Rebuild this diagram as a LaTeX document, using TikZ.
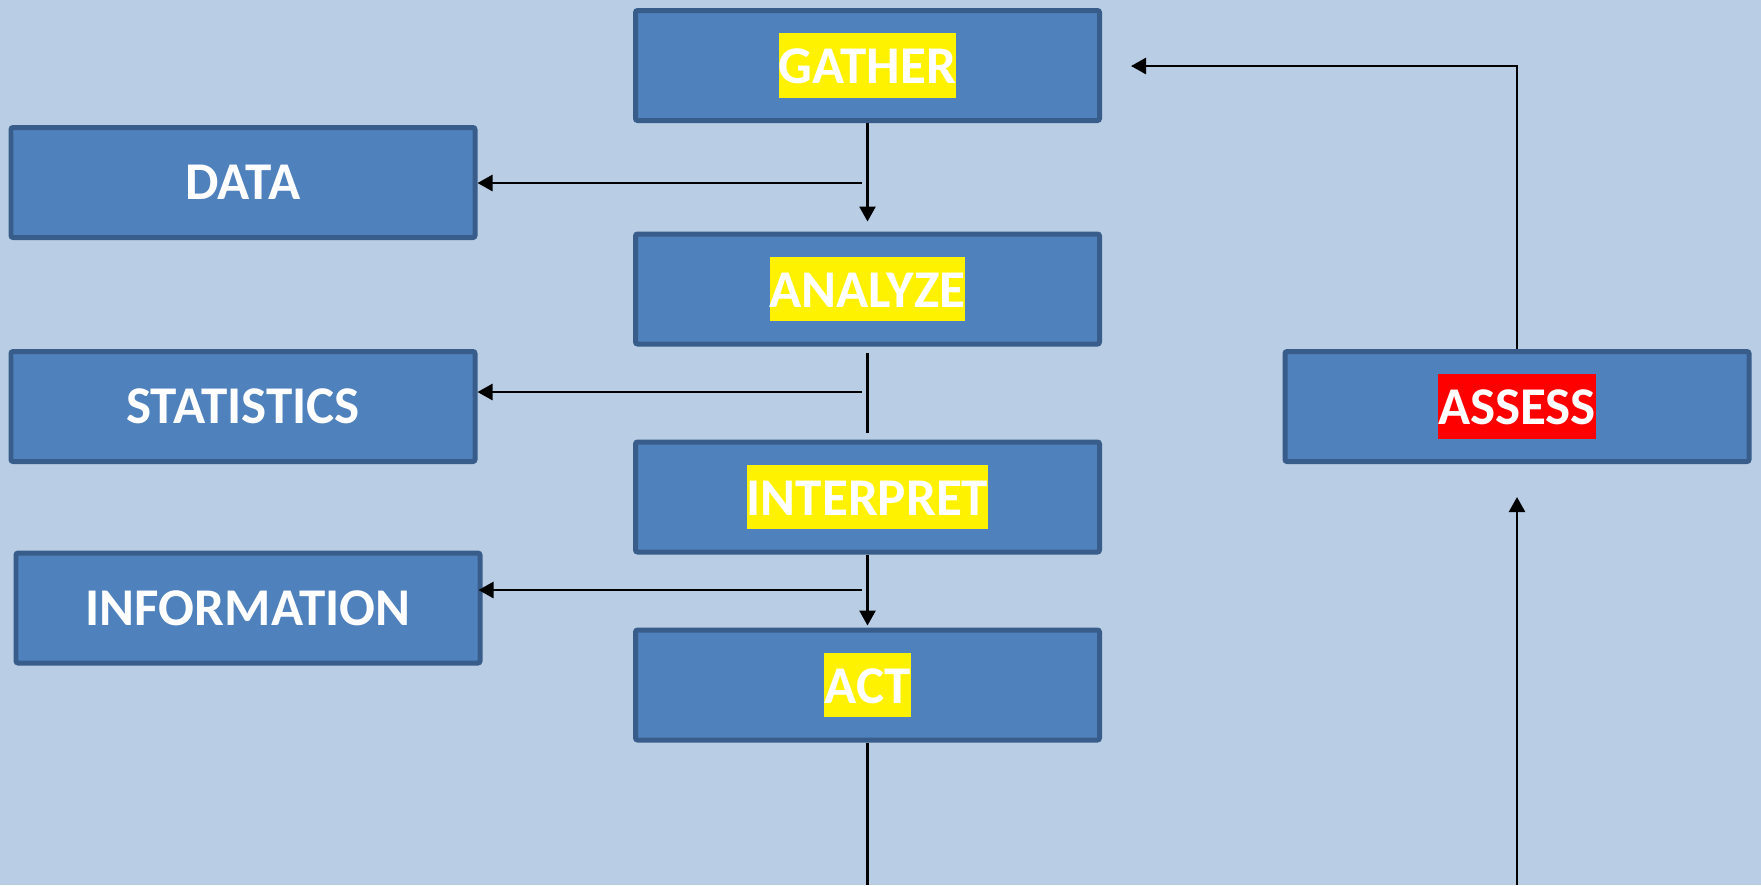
\documentclass[tikz,border=0pt]{standalone}
\usepackage{fontspec}
\setmainfont{Carlito}
\usetikzlibrary{positioning,arrows.meta}

\definecolor{bgblue}{HTML}{B9CDE5}
\definecolor{boxfill}{HTML}{4F81BD}
\definecolor{boxedge}{HTML}{385D8A}
\newcommand{\hilite}[2]{{\setlength{\fboxsep}{0pt}\colorbox{#1}{\rule[-0.269em]{0pt}{1.221em}#2}}}

\begin{document}
\begin{tikzpicture}[
  >={Triangle[length=1.5mm,width=1.6mm]},
  stepbox/.style={draw=boxedge,fill=boxfill,line width=1.42pt,rounded corners=0.6pt,
    minimum width=4.64cm,minimum height=1.10cm,inner sep=0pt,text=white,
    font=\fontsize{15.1}{18}\selectfont\bfseries},
  link/.style={draw,line width=0.75pt}]

% --- canvas: 1761 x 885 px, 1px = 0.01cm ---
\def\W{17.61}
\def\H{8.85}
\fill[bgblue] (0,0) rectangle (\W,-\H);
\useasboundingbox (0,0) rectangle (\W,-\H);

% --- main column ---
\node[stepbox] (gather)    at (8.675,-0.655) {\hilite{yellow}{GATHER}};
\node[stepbox] (analyze)   at (8.675,-2.89)  {\hilite{yellow}{ANALYZE}};
\node[stepbox] (interpret) at (8.675,-4.97)  {\hilite{yellow}{INTERPRET}};
\node[stepbox] (act)       at (8.675,-6.85)  {\hilite{yellow}{ACT}};

% --- products on the left ---
\node[stepbox] (data)  at (2.43,-1.825) {DATA};
\node[stepbox] (stats) at (2.43,-4.065) {STATISTICS};
\node[stepbox] (info)  at (2.48,-6.08)  {INFORMATION};

% --- feedback step on the right ---
\node[stepbox] (assess) at (15.17,-4.065) {\hilite{red}{ASSESS}};

% --- column connectors ---
\draw[link,->,shorten >=1.0mm] (gather.south) -- (analyze.north);
\draw[link,shorten <=0.6mm,shorten >=0.7mm] (analyze.south) -- (interpret.north);
\draw[link,->,shorten >=0.2mm] (interpret.south) -- (act.north);
\coordinate (actEnd) at (8.675,-\H);
\draw[link] (act.south) -- (actEnd);

% --- taps to the left boxes ---
\coordinate (tapD) at (8.62,-1.83);
\coordinate (tapS) at (8.62,-3.92);
\coordinate (tapI) at (8.62,-5.90);
\draw[link,->] (tapD) -- (tapD -| data.east);
\draw[link,->] (tapS) -- (tapS -| stats.east);
\draw[link,->,shorten >=-0.4mm] (tapI) -- (tapI -| info.east);

% --- loop back through assess ---
\coordinate (assIn) at (15.17,-\H);
\coordinate (back) at (11.31,-0.66);
\draw[link,->,shorten >=3.3mm] (assIn) -- (assess.south);
\draw[link,->] (assess.north) |- (back);

\end{tikzpicture}
\end{document}
